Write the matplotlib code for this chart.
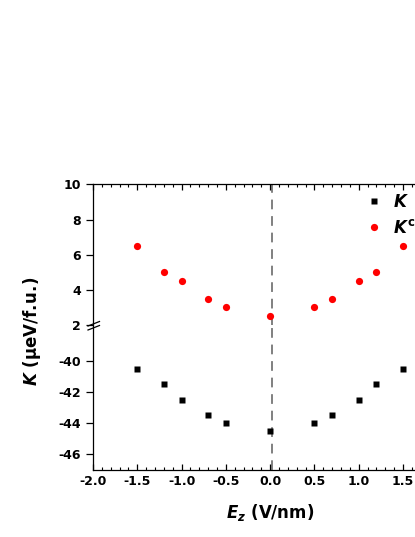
import matplotlib
matplotlib.use("Agg")
import matplotlib.pyplot as plt
from matplotlib.lines import Line2D
from matplotlib.ticker import MultipleLocator

# data
ez = [-1.5, -1.2, -1.0, -0.7, -0.5, 0.0, 0.5, 0.7, 1.0, 1.2, 1.5]
k_vals = [-40.5, -41.5, -42.5, -43.5, -44.0, -44.5, -44.0, -43.5, -42.5, -41.5, -40.5]
kc_vals = [6.5, 5.0, 4.5, 3.5, 3.0, 2.5, 3.0, 3.5, 4.5, 5.0, 6.5]
top_ticks = [2, 4, 6, 8, 10]
bottom_ticks = [-46, -44, -42, -40]
x_ticks = [-2.0, -1.5, -1.0, -0.5, 0.0, 0.5, 1.0, 1.5]

plt.rcParams['font.family'] = 'DejaVu Sans'
plt.rcParams['font.weight'] = 'bold'
plt.rcParams['axes.unicode_minus'] = False
plt.rcParams['mathtext.fontset'] = 'custom'
plt.rcParams['mathtext.it'] = 'DejaVu Sans:italic:bold'
plt.rcParams['mathtext.rm'] = 'DejaVu Sans:bold'
plt.rcParams['mathtext.bf'] = 'DejaVu Sans:bold'

W, H = 415, 537
fig = plt.figure(figsize=(W / 100, H / 100), dpi=100)

left = 93 / W
width = (447.3 - 93) / W
y_break = 1 - 325 / H
ax_top = fig.add_axes([left, y_break, width, (325 - 184.5) / H])
ax_bot = fig.add_axes([left, 1 - 470 / H, width, (470 - 325) / H])

for ax in (ax_top, ax_bot):
    ax.set_xlim(-2.0, 2.0)
    ax.xaxis.set_major_locator(MultipleLocator(0.5))
    ax.xaxis.set_minor_locator(MultipleLocator(0.1))
    ax.axvline(0.02, color='#808080', lw=1.4, ls=(0, (5, 3.5)), zorder=1)
    for s in ax.spines.values():
        s.set_linewidth(0.9)
    ax.tick_params(axis='y', which='major', direction='out', length=5, width=0.9, labelsize=9)
    ax.tick_params(axis='x', which='major', direction='in', length=4.5, width=0.9, labelsize=9)
    ax.tick_params(axis='x', which='minor', direction='in', length=2.3, width=0.8)
    ax.tick_params(axis='y', which='minor', left=False, right=False)

ax_top.set_ylim(2, 10)
ax_top.set_yticks(top_ticks)
ax_top.spines['bottom'].set_visible(False)
ax_top.xaxis.tick_top()
ax_top.tick_params(axis='x', which='both', labeltop=False)

ax_bot.set_ylim(-47, -37.7)
ax_bot.set_yticks(bottom_ticks)
ax_bot.spines['top'].set_visible(False)
ax_bot.set_xticks(x_ticks)
ax_bot.set_xticklabels(['%.1f' % v for v in x_ticks])

ax_top.plot(ez, kc_vals, 'o', color='red', ms=5.2, mec='none', zorder=3)
ax_bot.plot(ez, k_vals, 's', color='black', ms=4.2, mec='none', zorder=3)

# break marks on the left spine
for dy in (0, 4):
    fig.add_artist(Line2D([88 / W, 99.5 / W],
                          [1 - (330 - dy) / H, 1 - (325.5 - dy) / H],
                          color='black', lw=0.9))

ax_bot.set_xlabel(r'$E_z\ \mathrm{(V/nm)}$', fontsize=12, labelpad=10)
fig.text(32 / W, 1 - 331 / H, r'$K\ \mathrm{(μeV/f.\!u.\!)}$', rotation=90,
         ha='center', va='center', fontsize=12)

handles = [Line2D([], [], ls='none', marker='s', color='black', ms=4.2, mec='none'),
           Line2D([], [], ls='none', marker='o', color='red', ms=5.2, mec='none')]
fig.legend(handles, [r'$K$', r'$K^{\mathrm{c}}$'], loc='center left',
           bbox_to_anchor=(366 / W, 1 - 215 / H), frameon=False,
           handlelength=1.0, handletextpad=0.6, labelspacing=0.45,
           borderpad=0, borderaxespad=0, fontsize=12)

fig.savefig('out.png', dpi=100)
